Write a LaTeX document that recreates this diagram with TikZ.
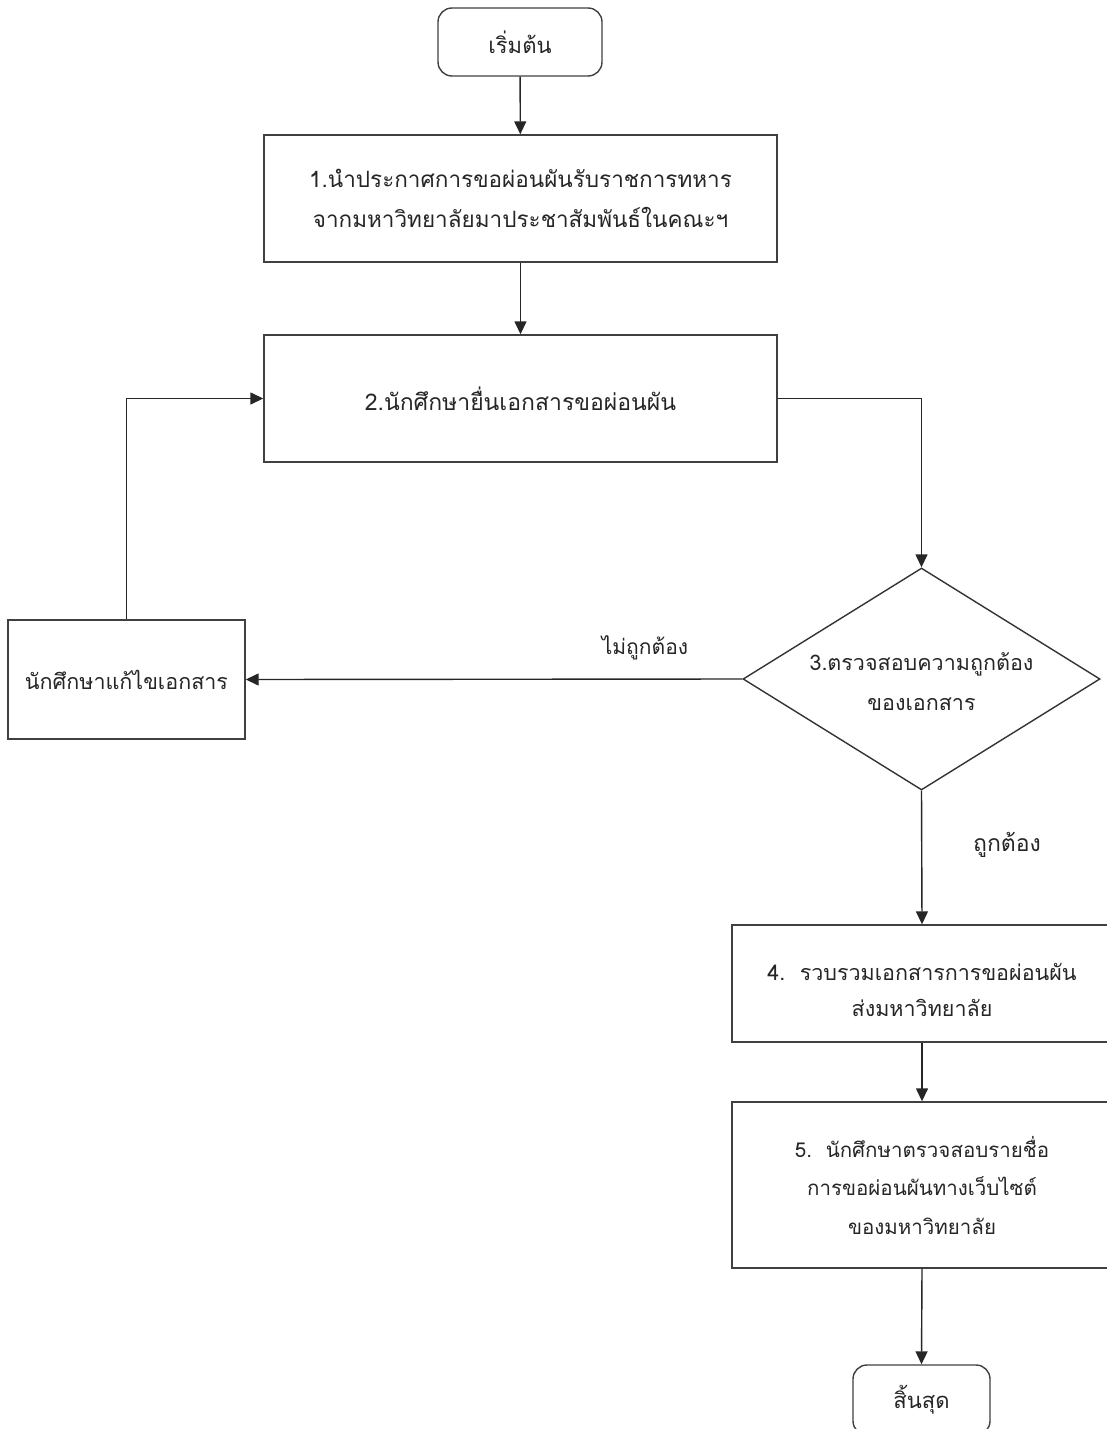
\documentclass[tikz,border=0pt]{standalone}
\usepackage{fontspec}
\newfontfamily\thai[Script=Thai]{Loma}
\usetikzlibrary{arrows.meta,shapes.geometric}
\begin{document}
\begin{tikzpicture}[x=1pt,y=-1pt,
  fs/.style={font=\thai\fontsize{#1}{40}\selectfont},
  fsl/.style 2 args={font=\thai\fontsize{#1}{#2}\selectfont},
  every node/.style={fs=21, text=black!85},
  box/.style={draw=black!75, line width=1.4pt, rectangle, inner sep=0pt, align=center},
  term/.style={box, rounded corners=14pt},
  dec/.style={draw=black!80, line width=1.4pt, diamond, inner sep=0pt},
  conn/.style={draw=black!85, line width=1.4pt, -{Triangle[length=13pt,width=12pt]}},
  lbl/.style={inner sep=0pt, align=center}]
\useasboundingbox (0,0) rectangle (1107,1429);
\clip (0,0) rectangle (1107,1429);
\node[term, fs=22, minimum width=164pt, minimum height=68pt] (start) at (520,42) {เริ่มต้น};
\node[box, fs=22.5, minimum width=513pt, minimum height=127pt] (b1) at (520.5,198.5) {1.นำประกาศการขอผ่อนผันรับราชการทหาร\\จากมหาวิทยาลัยมาประชาสัมพันธ์ในคณะฯ};
\node[box, fs=23, minimum width=513pt, minimum height=127pt] (b2) at (520.5,398.5) {2.นักศึกษายื่นเอกสารขอผ่อนผัน};
\node[dec, minimum width=357pt, minimum height=222pt] (dia) at (921.5,679) {};
\node[lbl, fs=21.5] (diat) at (921.5,682) {3.ตรวจสอบความถูกต้อง\\ของเอกสาร};
\node[box, fs=21.5, minimum width=237pt, minimum height=119pt] (fix) at (126.5,679.5) {นักศึกษาแก้ไขเอกสาร};
\node[box, minimum width=380pt, minimum height=117pt] (b4) at (922,983.5) {};
\node[lbl, fsl={21.5}{36}] (b4t) at (922,990) {4.\ \ รวบรวมเอกสารการขอผ่อนผัน\\ส่งมหาวิทยาลัย};
\node[box, fsl={20.5}{38.5}, minimum width=380pt, minimum height=166pt] (b5) at (922,1185) {5.\ \ นักศึกษาตรวจสอบรายชื่อ\\การขอผ่อนผันทางเว็บไซต์\\ของมหาวิทยาลัย};
\node[term, minimum width=137pt, minimum height=70pt] (end) at (921.5,1400) {};
\node[lbl, fs=22] (endt) at (921.5,1400) {สิ้นสุด};
\node[lbl, fs=21] (no) at (645,648) {ไม่ถูกต้อง};
\node[lbl, fs=23] (yes) at (1007,845) {ถูกต้อง};
\draw[conn] (start) -- (b1);
\draw[conn] (b1) -- (b2);
\draw[conn] (b2.east) -| (dia.north);
\draw[conn] (dia.west) -- (fix.east);
\draw[conn] (fix.north) |- (b2.west);
\draw[conn] (dia.south) -- (b4.north);
\draw[conn] (b4.south) -- (b5.north);
\draw[conn] (b5.south) -- (end.north);
\end{tikzpicture}
\end{document}
